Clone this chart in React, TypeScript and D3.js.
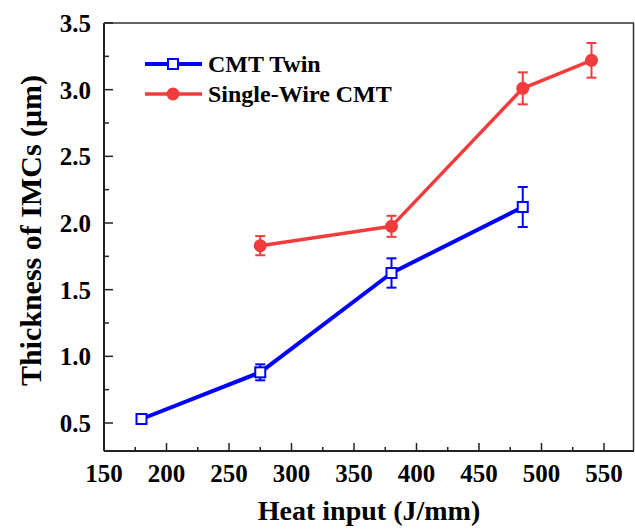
import React from "react";
import * as d3 from "d3";

const heatTwin = [180, 275, 380, 485];
const thickTwin = [0.53, 0.88, 1.625, 2.12];
const errTwin = [0, 0.06, 0.11, 0.15];

const heatSingle = [275, 380, 485, 540];
const thickSingle = [1.83, 1.975, 3.01, 3.22];
const errSingle = [0.072, 0.079, 0.12, 0.13];

const xTicks = [150, 200, 250, 300, 350, 400, 450, 500, 550];
const yTicks = [0.5, 1.0, 1.5, 2.0, 2.5, 3.0, 3.5];

const seriesNames = ["CMT Twin", "Single-Wire CMT"];

const W = 635;
const H = 530;
const M = { left: 104, right: 1, top: 23, bottom: 79 };
const BLUE = "#0000ff";
const RED = "#f23c3c";
const FONT = "'Liberation Serif', 'Times New Roman', serif";

export default function App() {
  const x = d3.scaleLinear().domain([150, 574]).range([M.left, W - M.right]);
  const y = d3.scaleLinear().domain([0.29, 3.5]).range([H - M.bottom, M.top]);
  const line = d3
    .line<[number, number]>()
    .x((d) => x(d[0]))
    .y((d) => y(d[1]));

  const twin = heatTwin.map((h, i) => [h, thickTwin[i]] as [number, number]);
  const single = heatSingle.map((h, i) => [h, thickSingle[i]] as [number, number]);

  const xMinor = d3.range(175, 574, 50);
  const yMinor = d3.range(0.75, 3.5, 0.5);
  const x0 = x.range()[0];
  const x1 = x.range()[1];
  const y0 = y.range()[0];
  const y1 = y.range()[1];

  const errBar = (hx: number, v: number, e: number, color: string, key: string) => {
    if (!e) return null;
    const cx = x(hx);
    const t = y(v + e);
    const b = y(v - e);
    return (
      <g key={key} stroke={color} strokeWidth={2}>
        <line x1={cx} x2={cx} y1={t} y2={b} />
        <line x1={cx - 5} x2={cx + 5} y1={t} y2={t} />
        <line x1={cx - 5} x2={cx + 5} y1={b} y2={b} />
      </g>
    );
  };

  return (
    <svg
      width={W}
      height={H}
      style={{ position: "absolute", left: 0, top: 0, background: "#fff" }}
      fontFamily={FONT}
      fontWeight="bold"
    >
      <rect x={0} y={0} width={W} height={H} fill="#fff" />
      {/* frame */}
      <line x1={x0} x2={x1} y1={y1} y2={y1} stroke="#333" strokeWidth={1.5} />
      <line x1={x1 - 0.5} x2={x1 - 0.5} y1={y1} y2={y0} stroke="#333" strokeWidth={1.5} />
      <line x1={x0} x2={x1} y1={y0} y2={y0} stroke="#222" strokeWidth={2} />
      <line x1={x0} x2={x0} y1={y1} y2={y0} stroke="#222" strokeWidth={2} />

      {/* x ticks */}
      {xTicks.map((t) => (
        <g key={"xt" + t}>
          <line x1={x(t)} x2={x(t)} y1={y0} y2={y0 - 8} stroke="#222" strokeWidth={1.5} />
          <text x={x(t)} y={482} textAnchor="middle" fontSize={25} fill="#000">
            {t}
          </text>
        </g>
      ))}
      {xMinor.map((t) => (
        <line key={"xm" + t} x1={x(t)} x2={x(t)} y1={y0} y2={y0 - 4} stroke="#222" strokeWidth={1.5} />
      ))}

      {/* y ticks */}
      {yTicks.map((t) => (
        <g key={"yt" + t}>
          <line x1={x0} x2={x0 + 9} y1={y(t)} y2={y(t)} stroke="#222" strokeWidth={1.5} />
          <text x={91} y={y(t) + 9} textAnchor="end" fontSize={25} fill="#000">
            {t.toFixed(1)}
          </text>
        </g>
      ))}
      {yMinor.map((t) => (
        <line key={"ym" + t} x1={x0} x2={x0 + 5} y1={y(t)} y2={y(t)} stroke="#222" strokeWidth={1.5} />
      ))}

      {/* axis titles */}
      <text x={(x0 + x1) / 2} y={520} textAnchor="middle" fontSize={28} fill="#000">
        Heat input (J/mm)
      </text>
      <text
        transform={`translate(41, ${(73 + 388) / 2}) rotate(-90)`}
        textAnchor="middle"
        fontSize={30}
        fill="#000"
      >
        Thickness of IMCs (μm)
      </text>

      {/* series: single-wire */}
      <path d={line(single) || ""} fill="none" stroke={RED} strokeWidth={3.5} strokeLinejoin="round" />
      {heatSingle.map((h, i) => errBar(h, thickSingle[i], errSingle[i], RED, "es" + i))}
      {single.map((d, i) => (
        <circle key={"cs" + i} cx={x(d[0])} cy={y(d[1])} r={6.5} fill={RED} />
      ))}

      {/* series: twin */}
      <path d={line(twin) || ""} fill="none" stroke={BLUE} strokeWidth={4} strokeLinejoin="round" />
      {heatTwin.map((h, i) => errBar(h, thickTwin[i], errTwin[i], BLUE, "et" + i))}
      {twin.map((d, i) => (
        <rect
          key={"ct" + i}
          x={x(d[0]) - 5}
          y={y(d[1]) - 5}
          width={10}
          height={10}
          fill="#fff"
          stroke={BLUE}
          strokeWidth={2}
        />
      ))}

      {/* legend */}
      <g>
        <line x1={145} x2={202} y1={64} y2={64} stroke={BLUE} strokeWidth={4} />
        <rect x={168} y={59} width={10} height={10} fill="#fff" stroke={BLUE} strokeWidth={2} />
        <text x={208} y={72} fontSize={24} fill="#000">
          {seriesNames[0]}
        </text>
        <line x1={145} x2={202} y1={94} y2={94} stroke={RED} strokeWidth={3.5} />
        <circle cx={173} cy={94} r={6.5} fill={RED} />
        <text x={208} y={102} fontSize={24} fill="#000">
          {seriesNames[1]}
        </text>
      </g>
    </svg>
  );
}
